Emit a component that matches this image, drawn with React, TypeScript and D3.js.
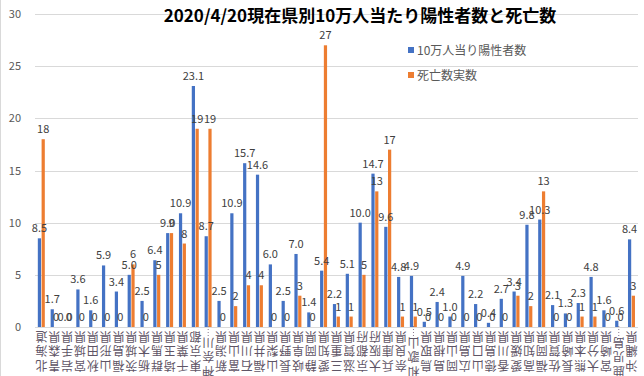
import React from "react";
import * as d3 from "d3";

const prefectures = ["北海道","青森県","岩手県","宮城県","秋田県","山形県","福島県","茨城県","栃木県","群馬県","埼玉県","千葉県","東京都","神奈川県","新潟県","富山県","石川県","福井県","山梨県","長野県","岐阜県","静岡県","愛知県","三重県","滋賀県","京都府","大阪府","兵庫県","奈良県","和歌山県","鳥取県","島根県","岡山県","広島県","山口県","徳島県","香川県","愛媛県","高知県","福岡県","佐賀県","長崎県","熊本県","大分県","宮崎県","鹿児島県","沖縄県"];
const positives = [8.5,1.7,0.0,3.6,1.6,5.9,3.4,5.0,2.5,6.4,9.0,10.9,23.1,8.7,2.5,10.9,15.7,14.6,6.0,2.5,7.0,1.4,5.4,2.2,5.1,10.0,14.7,9.6,4.8,4.9,0.5,2.4,1.0,4.9,2.2,0.4,2.7,3.4,9.8,10.3,2.1,1.3,2.3,4.8,1.6,0.6,8.4];
const deaths = [18,0,0,0,0,0,0,6,0,5,9,8,19,19,0,2,4,4,0,0,3,0,27,1,1,5,13,17,1,1,0,0,0,0,0,0,0,3,2,13,0,0,1,1,0,0,3];
const yTicks = [0,5,10,15,20,25,30];
const seriesNames = ["10万人当り陽性者数","死亡数実数"];
const colors = ["#4472C4","#ED7D31"];
const title = "2020/4/20現在県別10万人当たり陽性者数と死亡数";

const W = 644, H = 376;
const FONT = "'Noto Sans CJK JP', 'Noto Sans', sans-serif";

export default function App() {
  const y = d3.scaleLinear().domain([0, 30]).range([327, 14]);
  const x0 = d3.scaleBand<string>().domain(prefectures).range([35, 638]).padding(0);
  const x1 = d3.scaleBand<string>().domain(["p","d"]).range([0, 7]).paddingInner(0.15);
  const gx = (p: string) => (x0(p) as number) + x0.bandwidth() / 2 - 3.6;

  return (
    <svg width={W} height={H} style={{ position: "absolute", left: 0, top: 0, background: "#fff" }} fontFamily={FONT}>
      <rect x={0} y={0} width={W} height={H} fill="#fff" />
      <line x1={0.5} x2={0.5} y1={0} y2={H} stroke="#d9d9d9" />
      {yTicks.map((t) => (
        <g key={t}>
          <line x1={35} x2={638} y1={Math.round(y(t)) + 0.5} y2={Math.round(y(t)) + 0.5} stroke="#d9d9d9" strokeWidth={1} />
          <text x={21} y={y(t) + 4} textAnchor="end" fontSize={11} fill="#595959">{t}</text>
        </g>
      ))}
      {prefectures.map((p, i) => {
        const bx = gx(p);
        const xp = bx + (x1("p") as number);
        const xd = bx + (x1("d") as number);
        const bw = x1.bandwidth();
        return (
          <g key={p}>
            <rect x={xp} y={y(positives[i])} width={bw} height={y(0) - y(positives[i])} fill={colors[0]} />
            <rect x={xd} y={y(deaths[i])} width={bw} height={y(0) - y(deaths[i])} fill={colors[1]} />
          </g>
        );
      })}
      {prefectures.map((p, i) => {
        const bx = gx(p);
        const xp = bx + (x1("p") as number) + x1.bandwidth() / 2;
        const xd = bx + (x1("d") as number) + x1.bandwidth() / 2;
        return (
          <g key={p + "l"} fontSize={11} fill="#404040">
            <text x={xp} y={y(positives[i]) - 6} textAnchor="middle">{positives[i].toFixed(1)}</text>
            <text x={xd} y={y(deaths[i]) - 6} textAnchor="middle">{deaths[i]}</text>
          </g>
        );
      })}
      {prefectures.map((p) => {
        const cx = (x0(p) as number) + x0.bandwidth() / 2;
        const long = p.length > 3;
        const chars = (long ? p.slice(0, 3) : p).split("");
        const n = chars.length;
        return (
          <g key={p + "x"} fontSize={12} fill="#5f5566">
            {long && (
              <line x1={cx} x2={cx} y1={326} y2={340} stroke="#8a7a90" strokeDasharray="1,2" />
            )}
            {chars.map((c, k) => {
              const cy = 337 + (n - 1 - k) * 14.8 + (long ? 6 : 0);
              return (
                <text key={k} x={cx} y={cy} textAnchor="middle" dominantBaseline="central" transform={`rotate(180 ${cx} ${cy})`}>{c}</text>
              );
            })}
          </g>
        );
      })}
      <text x={360} y={22} textAnchor="middle" fontSize={17} fontWeight={600} fill="#000">{title}</text>
      {seriesNames.map((s, i) => (
        <g key={s}>
          <rect x={408} y={47 + i * 25} width={6} height={6} fill={colors[i]} />
          <text x={417} y={55 + i * 25} fontSize={12} fill="#595959">{s}</text>
        </g>
      ))}
    </svg>
  );
}
